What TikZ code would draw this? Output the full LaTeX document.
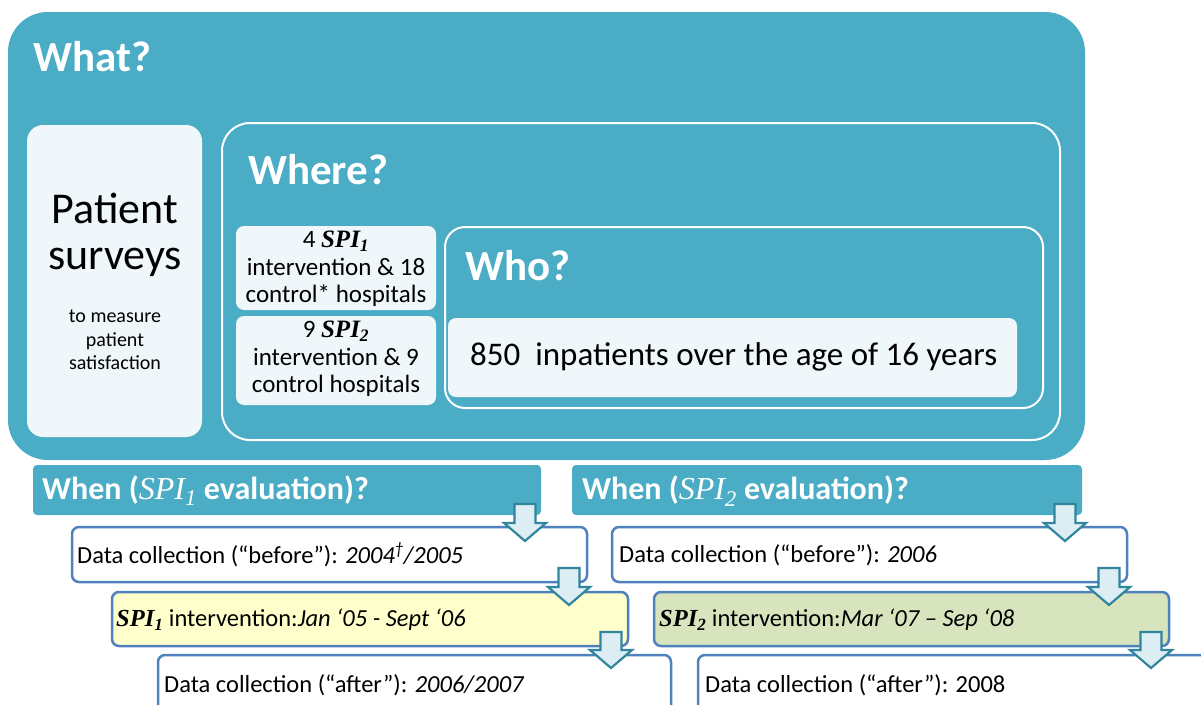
\documentclass[tikz,border=0pt]{standalone}
\usepackage{fontspec}
\setmainfont{Carlito}
\newfontfamily\spifont{Liberation Serif}

\definecolor{aqua}{HTML}{4BACC6}
\definecolor{paleaqua}{HTML}{EFF7FA}
\definecolor{flowblue}{HTML}{4F81BD}
\definecolor{arrowedge}{HTML}{31859C}
\definecolor{arrowfill}{HTML}{DCEEF4}
\definecolor{paleyellow}{HTML}{FFFFCC}
\definecolor{palegreen}{HTML}{D7E4BD}

\newcommand\fs[2]{\fontsize{#1}{#2}\selectfont}
\newcommand\spiB[1]{{\spifont\bfseries\itshape SPI\textsubscript{#1}}}
\newcommand\spiI[1]{{\spifont\mdseries\itshape SPI\textsubscript{#1}}}

% block arrow pointing down: centre x, top y, tip y
\newcommand\flowarrow[3]{%
  \draw[flowarrowstyle] (#1-10.5,#2) -- (#1+10.5,#2) -- (#1+10.5,#3-18)
    -- (#1+21,#3-18) -- (#1,#3) -- (#1-21,#3-18) -- (#1-10.5,#3-18) -- cycle;}

\tikzset{
  panel/.style={inner sep=0pt, outer sep=0pt, anchor=north west},
  heading/.style={text=white, font=\bfseries\fs{43}{50}, anchor=base west, inner sep=0pt},
  whenbar/.style={panel, fill=aqua, rounded corners=4},
  whentext/.style={text=white, font=\bfseries\fs{32}{36}, anchor=west, inner sep=0pt},
  flowbox/.style={panel, draw=flowblue, line width=2.5pt, rounded corners=7},
  flowtext/.style={font=\fs{24.5}{28}, anchor=west, inner sep=0pt},
  flowarrowstyle/.style={draw=arrowedge, line width=2.2pt, fill=arrowfill, line join=miter},
}

\begin{document}
\begin{tikzpicture}[x=1pt, y=-1pt]
\useasboundingbox (0,0) rectangle (1201,704);
\clip (0,0) rectangle (1201,704);

% What? panel
\node[panel, fill=aqua, rounded corners=40, minimum width=1077, minimum height=448] (what) at (8,12) {};
\node[heading] (whatlbl) at (33,71) {What?};

% Patient surveys
\node[panel, fill=paleaqua, rounded corners=16, minimum width=175, minimum height=312] (patient) at (27,125) {};
\node[align=center, font=\fs{44}{46}, inner sep=0pt] (surveys) at (115,235) {Patient\\surveys};
\node[align=center, font=\fs{20}{23.5}, inner sep=0pt] (measure) at (115,340) {to measure\\patient\\satisfaction};

% Where? panel
\node[panel, fill=aqua, draw=white, line width=2pt, rounded corners=28, minimum width=838, minimum height=317] (where) at (222,123) {};
\node[heading] (wherelbl) at (248,184) {Where?};

\node[panel, fill=paleaqua, rounded corners=8, minimum width=200, minimum height=84] (spione) at (236,226) {};
\node[align=center, font=\fs{25}{27.5}, inner sep=0pt] (spionetxt) at (336,269) {4 \spiB{1}\\intervention \& 18\\control* hospitals};
\node[panel, fill=paleaqua, rounded corners=8, minimum width=200, minimum height=89] (spitwo) at (236,316) {};
\node[align=center, font=\fs{25}{27.5}, inner sep=0pt] (spitwotxt) at (336,359) {9 \spiB{2}\\intervention \& 9\\control hospitals};

% Who? panel
\node[panel, fill=aqua, draw=white, line width=2pt, rounded corners=20, minimum width=598, minimum height=181] (who) at (445,227) {};
\node[heading] (wholbl) at (465,280) {Who?};
\node[panel, fill=paleaqua, rounded corners=8, minimum width=569, minimum height=79] (inpat) at (448,318) {};
\node[font=\fs{33}{36}, anchor=west, inner sep=0pt] (inpattxt) at (470,357) {850\ \ inpatients over the age of 16 years};

% When bars
\node[whenbar, minimum width=508, minimum height=50] (whenone) at (33,465) {};
\node[whentext] (whenonetxt) at (42,491) {When (\spiI{1} evaluation)?};
\node[whenbar, minimum width=510, minimum height=50] (whentwo) at (572,465) {};
\node[whentext] (whentwotxt) at (582,491) {When (\spiI{2} evaluation)?};

% SPI1 timeline
\node[flowbox, fill=white, minimum width=515, minimum height=55] (beforeone) at (72,527) {};
\node[flowtext] (beforeonetxt) at (77,555) {Data collection (“before”): \textit{2004\textsuperscript{\textdagger}/2005}};
\node[flowbox, fill=paleyellow, minimum width=516, minimum height=54] (intone) at (112,592) {};
\node[flowtext] (intonetxt) at (116,620) {\spiB{1} intervention:\textit{Jan ‘05 - Sept ‘06}};
\node[flowbox, fill=white, minimum width=513, minimum height=80] (afterone) at (158,655) {};
\node[flowtext] (afteronetxt) at (164,685) {Data collection (“after”): \textit{2006/2007}};

% SPI2 timeline
\node[flowbox, fill=white, minimum width=515, minimum height=55] (beforetwo) at (612,527) {};
\node[flowtext] (beforetwotxt) at (619,555) {Data collection (“before”): \textit{2006}};
\node[flowbox, fill=palegreen, minimum width=515, minimum height=54] (inttwo) at (654,592) {};
\node[flowtext] (inttwotxt) at (659,620) {\spiB{2} intervention:\textit{Mar ‘07 – Sep ‘08}};
\node[flowbox, fill=white, minimum width=560, minimum height=80] (aftertwo) at (698,655) {};
\node[flowtext] (aftertwotxt) at (705,685) {Data collection (“after”): 2008};

% flow arrows
\flowarrow{525}{504}{541}
\flowarrow{569}{568}{605}
\flowarrow{611}{632}{668}
\flowarrow{1065}{504}{541}
\flowarrow{1109}{568}{605}
\flowarrow{1151}{632}{668}
\end{tikzpicture}
\end{document}
